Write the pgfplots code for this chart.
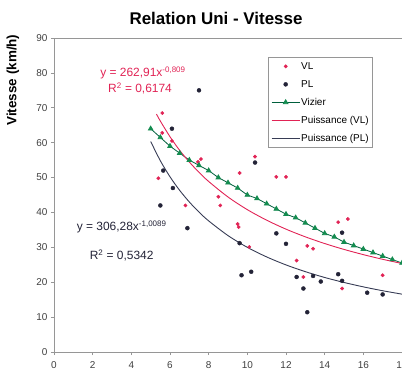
\documentclass[border=0pt]{standalone}
\usepackage{pgfplots}
\pgfplotsset{compat=1.18}
\usepackage{fontspec}
\setmainfont{Liberation Sans}
\definecolor{vlred}{RGB}{225,35,85}
\definecolor{pldark}{RGB}{35,35,55}
\definecolor{plline}{RGB}{55,60,85}
\definecolor{vizgreen}{RGB}{20,140,80}
\definecolor{vizline}{RGB}{0,95,60}
\definecolor{axgray}{RGB}{150,150,150}
\begin{document}
\begin{tikzpicture}
\begin{axis}[
  at={(0,0)}, anchor=south west, scale only axis,
  width=348bp, height=314bp,
  xmin=0, xmax=18, ymin=0, ymax=90,
  xtick={0,2,...,18}, ytick={0,10,...,90},
  axis line style={axgray, line width=0.8pt},
  tick style={axgray, line width=0.6pt}, tick align=outside, major tick length=3bp,
  xtick pos=bottom, ytick pos=left,
  tick label style={font=\fontsize{10}{12}\selectfont, text=black!75},
  /pgf/number format/assume math mode=true,
  xticklabel style={yshift=-3bp},
  legend style={at={(0.615,0.939)}, anchor=north west, draw=axgray, fill=white,
    font=\fontsize{10}{12}\selectfont, row sep=6bp, inner xsep=3bp, inner ysep=3bp,
    nodes={inner sep=1bp, text height=8bp, text depth=2bp},
    cells={anchor=west}},
  legend image code/.code={\draw[mark repeat=2,mark phase=2,#1] plot coordinates {(0bp,0bp) (14bp,0bp) (28bp,0bp)};},
]
\addplot[only marks, mark=*, mark size=1.7bp, color=vlred] coordinates {
(5.6,68.5) (5.6,62.8) (6.1,60.5) (5.4,49.8) (6.8,42) (7.45,54.5) (7.6,55.3)
(8.5,44.5) (8.6,42) (9.5,36.7) (9.55,35.8) (9.6,51.3) (10.1,30.1) (10.4,56)
(11.5,50.2) (12.0,50.2) (12.55,26.2) (12.9,21.5) (13.1,30.4) (13.4,29.6)
(14.7,37.2) (15.2,38.1) (14.9,18.2) (17.0,22)
};
\addlegendentry{VL}
\addplot[only marks, mark=*, mark size=2bp, color=pldark] coordinates {
(7.5,75) (6.1,64) (5.65,52) (6.15,47) (5.5,42) (6.9,35.5) (10.4,54.3)
(9.6,31.2) (9.7,22) (10.2,23) (11.5,34) (12.0,31) (12.55,21.5) (12.9,18.2)
(13.1,11.4) (13.4,21.8) (13.8,20.2) (14.7,22.3) (14.9,20.4) (14.9,34.2)
(16.2,17) (17.0,16.5)
};
\addlegendentry{PL}
\addplot[color=vizline, line width=0.8pt, mark=triangle*, mark size=2.6bp,
  mark options={fill=vizgreen, draw=vizgreen}] coordinates {
(5,64) (5.5,61.5) (6,59) (6.5,57) (7,55) (7.5,53.5) (8,52) (8.5,50) (9,48.5)
(9.5,47) (10,45) (10.5,44) (11,42.5) (11.5,41) (12,39.5) (12.5,38.5) (13,37)
(13.5,35.5) (14,34) (14.5,33) (15,31.5) (15.5,30.5) (16,29.5) (16.5,28.5)
(17,27.5) (17.5,26.5) (18,25.5)
};
\addlegendentry{Vizier}
\addplot[color=vlred, line width=0.9pt, smooth] coordinates {
(5.3,68.2) (5.5,66.2) (6,61.7) (6.5,57.8) (7,54.45) (7.5,51.5) (8,48.88) (9,44.43)
(10,40.80) (11,37.78) (12,35.21) (13,33.01) (14,31.09) (15,29.40) (16,27.91)
(17,26.57) (18,25.37)
};
\addlegendentry{Puissance (VL)}
\addplot[color=plline, line width=0.9pt, smooth] coordinates {
(5,60.35) (5.5,54.82) (6,50.22) (6.5,46.33) (7,43.00) (7.5,40.10) (8,37.58)
(9,33.37) (10,30.00) (11,27.25) (12,24.96) (13,23.03) (14,21.36) (15,19.93)
(16,18.67) (17,17.56) (18,16.58)
};
\addlegendentry{Puissance (PL)}
\node[text=vlred, font=\fontsize{12}{14}\selectfont] at (axis cs:4.6,80) {y = 262,91x\textsuperscript{-0,809}};
\node[text=vlred, font=\fontsize{12}{14}\selectfont] at (axis cs:4.45,75.6) {R\textsuperscript{2} = 0,6174};
\node[text=pldark, font=\fontsize{12}{14}\selectfont] at (axis cs:3.5,35.8) {y = 306,28x\textsuperscript{-1,0089}};
\node[text=pldark, font=\fontsize{12}{14}\selectfont] at (axis cs:3.5,27.6) {R\textsuperscript{2} = 0,5342};
\end{axis}
\node[font=\bfseries\fontsize{17}{20}\selectfont] at (162bp,334bp) {Relation Uni - Vitesse};
\node[font=\bfseries\fontsize{13.5}{16}\selectfont, rotate=90] at (-41bp,272bp) {Vitesse (km/h)};
\pgfresetboundingbox
\useasboundingbox (-54bp,-26bp) rectangle (348bp,352bp);
\end{tikzpicture}
\end{document}
